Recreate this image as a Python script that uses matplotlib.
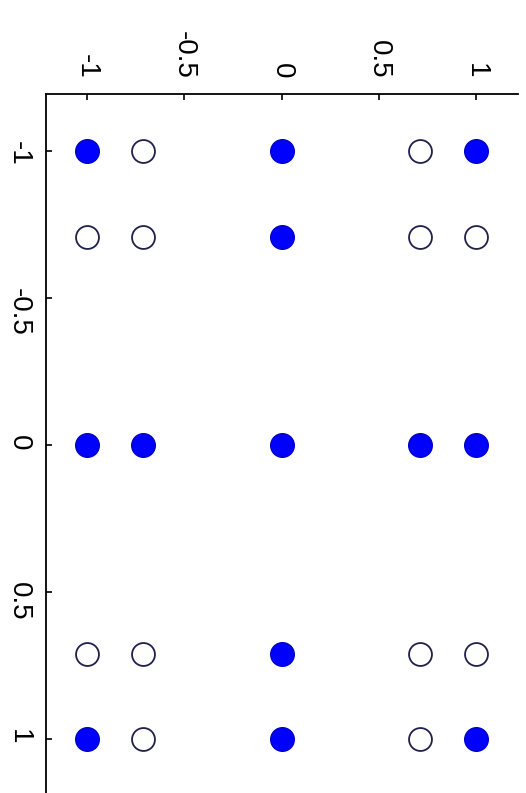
import matplotlib
matplotlib.use("Agg")
import matplotlib.pyplot as plt

# Data
filled_x = [-1, 0, 1, 0, -1, -0.71, 0, 0.71, 1, 0, -1, 0, 1]
filled_y = [-1, -1, -1, -0.71, 0, 0, 0, 0, 0, 0.71, 1, 1, 1]
open_x = [-0.71, 0.71, -1, -0.71, 0.71, 1, -1, -0.71, 0.71, 1, -0.71, 0.71]
open_y = [-1, -1, -0.71, -0.71, -0.71, -0.71, 0.71, 0.71, 0.71, 0.71, 1, 1]
xticks = [-1, -0.5, 0, 0.5, 1]
yticks = [-1, -0.5, 0, 0.5, 1]
xtick_labels = ["-1", "-0.5", "0", "0.5", "1"]
ytick_labels = ["-1", "-0.5", "0", "0.5", "1"]

plt.rcParams['font.family'] = ['Liberation Sans', 'DejaVu Sans']

fig = plt.figure(figsize=(5.26, 7.93), dpi=100)
ax = fig.add_axes([46/526, 1 - 798/793, (518-46)/526, (798-94)/793])

ax.plot(filled_x, filled_y, linestyle="none", marker="o", markersize=17,
        markerfacecolor="#0000ff", markeredgecolor="#0000c8", markeredgewidth=1)
ax.plot(open_x, open_y, linestyle="none", marker="o", markersize=16.5,
        markerfacecolor="white", markeredgecolor="#20204c", markeredgewidth=1.3)

ax.set_xlim(-1.21, 1.215)
ax.set_ylim(1.2, -1.195)
ax.xaxis.tick_top()
ax.set_xticks(xticks)
ax.set_xticklabels(xtick_labels)
ax.set_yticks(yticks)
ax.set_yticklabels(ytick_labels)
ax.tick_params(direction="in", length=4, width=1.2, labelsize=20, colors="black")
ax.tick_params(axis="x", pad=11)
ax.tick_params(axis="y", pad=10)
for lab in ax.get_xticklabels() + ax.get_yticklabels():
    lab.set_rotation(-90)
for s in ["right", "bottom"]:
    ax.spines[s].set_visible(False)
for s in ["top", "left"]:
    ax.spines[s].set_linewidth(1.3)

fig.savefig("out.png", dpi=100)
